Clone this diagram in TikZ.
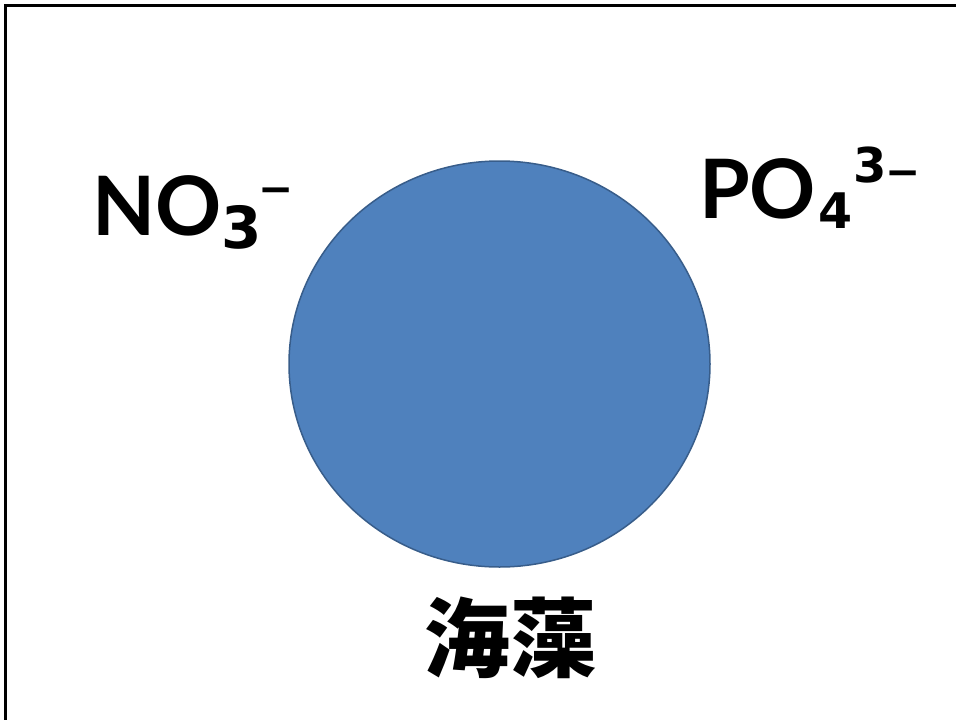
\documentclass[tikz,border=0pt]{standalone}
\usepackage{fontspec}
\newfontfamily\cjk{Noto Sans CJK JP}
\newfontfamily\latin{Lato}
\newfontfamily\digits{DejaVu Sans}
\usetikzlibrary{shapes.geometric}
\definecolor{algafill}{HTML}{4F81BD}
\definecolor{algaline}{HTML}{385D8A}
\tikzset{
  ion/.style={inner sep=0pt, font=\latin\bfseries\fontsize{82}{82}\selectfont},
  label/.style={inner sep=0pt, font=\cjk\bfseries\fontsize{86}{86}\selectfont},
}
\newcommand{\shifted}[3]{\raisebox{#1}{\digits\bfseries\fontsize{#2}{#2}\selectfont #3}}
\begin{document}
\begin{tikzpicture}[x=1pt,y=-1pt]
\useasboundingbox (0,0) rectangle (956,720);
\clip (0,0) rectangle (956,720);
\draw[line width=2.5pt] (5.5,5.5) rectangle (980,740);
\node[draw=algaline, fill=algafill, line width=1.5pt, ellipse, minimum width=421pt, minimum height=406pt, inner sep=0pt] (alga) at (499.5,364) {};
\node[ion, anchor=base west] (no3) at (92,235) {NO\kern0pt\shifted{-13pt}{58}{3}\kern-3pt\shifted{32pt}{42}{−}};
\node[ion, anchor=base west] (po4) at (699,218) {PO\kern2pt\shifted{-10pt}{49}{4}\kern1pt\shifted{36pt}{48}{3}\kern-1pt\shifted{32pt}{42}{−}};
\node[label, anchor=center] (name) at (510.5,637.5) {海藻};
\end{tikzpicture}
\end{document}
